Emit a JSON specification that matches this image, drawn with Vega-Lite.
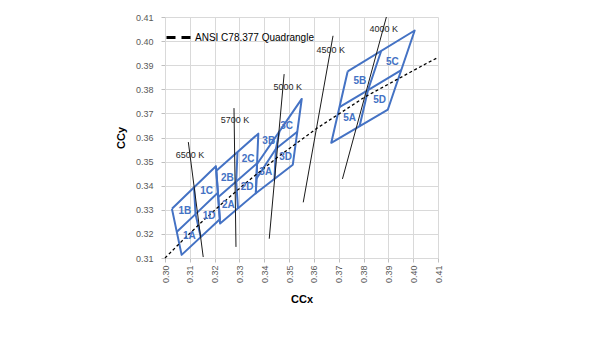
{
  "$schema": "https://vega.github.io/schema/vega-lite/v6.json",
  "autosize": {"type": "none"},
  "padding": {"left": 165, "top": 17, "right": 153, "bottom": 96},
  "width": 273,
  "height": 241,
  "background": "white",
  "config": {
    "view": {"stroke": null},
    "font": "Liberation Sans",
    "axis": {
      "gridColor": "#D9D9D9",
      "gridWidth": 1,
      "domainColor": "#D9D9D9",
      "tickColor": "#BFBFBF",
      "tickSize": 4,
      "labelColor": "#595959",
      "labelFontSize": 9,
      "labelFont": "Liberation Sans",
      "titleFont": "Liberation Sans",
      "titleFontSize": 11,
      "titleFontWeight": "bold",
      "titleColor": "#000000"
    }
  },
  "datasets": {
    "quads": [
      {"p": "Q65", "o": 1, "x": 0.3028, "y": 0.3304},
      {"p": "Q65", "o": 2, "x": 0.3205, "y": 0.3481},
      {"p": "Q65", "o": 3, "x": 0.3221, "y": 0.3261},
      {"p": "Q65", "o": 4, "x": 0.3067, "y": 0.3113},
      {"p": "Q65", "o": 5, "x": 0.3028, "y": 0.3304},
      {"p": "Q65v", "o": 1, "x": 0.3117, "y": 0.3393},
      {"p": "Q65v", "o": 2, "x": 0.3123, "y": 0.3282},
      {"p": "Q65v", "o": 3, "x": 0.3144, "y": 0.3187},
      {"p": "Q65h", "o": 1, "x": 0.3048, "y": 0.3209},
      {"p": "Q65h", "o": 2, "x": 0.3123, "y": 0.3282},
      {"p": "Q65h", "o": 3, "x": 0.3213, "y": 0.3371},
      {"p": "Q57", "o": 1, "x": 0.3207, "y": 0.3462},
      {"p": "Q57", "o": 2, "x": 0.3376, "y": 0.3616},
      {"p": "Q57", "o": 3, "x": 0.3366, "y": 0.3369},
      {"p": "Q57", "o": 4, "x": 0.3222, "y": 0.3243},
      {"p": "Q57", "o": 5, "x": 0.3207, "y": 0.3462},
      {"p": "Q57v", "o": 1, "x": 0.3292, "y": 0.3539},
      {"p": "Q57v", "o": 2, "x": 0.3287, "y": 0.3417},
      {"p": "Q57v", "o": 3, "x": 0.3294, "y": 0.3306},
      {"p": "Q57h", "o": 1, "x": 0.3215, "y": 0.3353},
      {"p": "Q57h", "o": 2, "x": 0.3287, "y": 0.3417},
      {"p": "Q57h", "o": 3, "x": 0.3371, "y": 0.3493},
      {"p": "Q50", "o": 1, "x": 0.3371, "y": 0.349},
      {"p": "Q50", "o": 2, "x": 0.3551, "y": 0.376},
      {"p": "Q50", "o": 3, "x": 0.3515, "y": 0.3487},
      {"p": "Q50", "o": 4, "x": 0.3366, "y": 0.3369},
      {"p": "Q50", "o": 5, "x": 0.3371, "y": 0.349},
      {"p": "Q50v", "o": 1, "x": 0.3461, "y": 0.3625},
      {"p": "Q50v", "o": 2, "x": 0.3447, "y": 0.3553},
      {"p": "Q50v", "o": 3, "x": 0.3441, "y": 0.3428},
      {"p": "Q50h", "o": 1, "x": 0.3369, "y": 0.343},
      {"p": "Q50h", "o": 2, "x": 0.3447, "y": 0.3553},
      {"p": "Q50h", "o": 3, "x": 0.3533, "y": 0.3624},
      {"p": "Q40", "o": 1, "x": 0.3736, "y": 0.3874},
      {"p": "Q40", "o": 2, "x": 0.4006, "y": 0.4044},
      {"p": "Q40", "o": 3, "x": 0.3898, "y": 0.3716},
      {"p": "Q40", "o": 4, "x": 0.367, "y": 0.3578},
      {"p": "Q40", "o": 5, "x": 0.3736, "y": 0.3874},
      {"p": "Q40v", "o": 1, "x": 0.3871, "y": 0.3959},
      {"p": "Q40v", "o": 2, "x": 0.3818, "y": 0.3797},
      {"p": "Q40v", "o": 3, "x": 0.3784, "y": 0.3647},
      {"p": "Q40h", "o": 1, "x": 0.3703, "y": 0.3726},
      {"p": "Q40h", "o": 2, "x": 0.3818, "y": 0.3797},
      {"p": "Q40h", "o": 3, "x": 0.3952, "y": 0.388}
    ],
    "iso": [
      {"t": "6500", "o": 1, "x": 0.3094, "y": 0.3581},
      {"t": "6500", "o": 2, "x": 0.3154, "y": 0.3104},
      {"t": "5700", "o": 1, "x": 0.3278, "y": 0.3722},
      {"t": "5700", "o": 2, "x": 0.3286, "y": 0.3146},
      {"t": "5000", "o": 1, "x": 0.348, "y": 0.3863},
      {"t": "5000", "o": 2, "x": 0.342, "y": 0.318},
      {"t": "4500", "o": 1, "x": 0.3677, "y": 0.4022},
      {"t": "4500", "o": 2, "x": 0.3557, "y": 0.3331},
      {"t": "4000", "o": 1, "x": 0.3892, "y": 0.41},
      {"t": "4000", "o": 2, "x": 0.3715, "y": 0.3428}
    ],
    "locus": [
      {"s": "ANSI C78.377 Quadrangle", "o": 1, "x": 0.3, "y": 0.31},
      {"s": "ANSI C78.377 Quadrangle", "o": 2, "x": 0.3064, "y": 0.3166},
      {"s": "ANSI C78.377 Quadrangle", "o": 3, "x": 0.3135, "y": 0.3237},
      {"s": "ANSI C78.377 Quadrangle", "o": 4, "x": 0.3221, "y": 0.3318},
      {"s": "ANSI C78.377 Quadrangle", "o": 5, "x": 0.3324, "y": 0.341},
      {"s": "ANSI C78.377 Quadrangle", "o": 6, "x": 0.3451, "y": 0.3516},
      {"s": "ANSI C78.377 Quadrangle", "o": 7, "x": 0.3609, "y": 0.3636},
      {"s": "ANSI C78.377 Quadrangle", "o": 8, "x": 0.3805, "y": 0.3768},
      {"s": "ANSI C78.377 Quadrangle", "o": 9, "x": 0.4053, "y": 0.3907},
      {"s": "ANSI C78.377 Quadrangle", "o": 10, "x": 0.41, "y": 0.3932}
    ],
    "bins": [
      {"b": "1A", "x": 0.3098, "y": 0.3193},
      {"b": "1B", "x": 0.308, "y": 0.3296},
      {"b": "1C", "x": 0.3168, "y": 0.3379},
      {"b": "1D", "x": 0.3178, "y": 0.3276},
      {"b": "2A", "x": 0.3255, "y": 0.3321},
      {"b": "2B", "x": 0.3251, "y": 0.3434},
      {"b": "2C", "x": 0.3335, "y": 0.3511},
      {"b": "2D", "x": 0.3331, "y": 0.3395},
      {"b": "3A", "x": 0.3406, "y": 0.3455},
      {"b": "3B", "x": 0.3418, "y": 0.3584},
      {"b": "3C", "x": 0.349, "y": 0.3646},
      {"b": "3D", "x": 0.3486, "y": 0.3519},
      {"b": "5A", "x": 0.3744, "y": 0.3681},
      {"b": "5B", "x": 0.3785, "y": 0.3833},
      {"b": "5C", "x": 0.3916, "y": 0.3913},
      {"b": "5D", "x": 0.3865, "y": 0.3754}
    ],
    "cct": [
      {"t": "6500 K", "x": 0.3101, "y": 0.3529},
      {"t": "5700 K", "x": 0.3282, "y": 0.3671},
      {"t": "5000 K", "x": 0.3495, "y": 0.381},
      {"t": "4500 K", "x": 0.3668, "y": 0.3964},
      {"t": "4000 K", "x": 0.3881, "y": 0.405}
    ]
  },
  "encoding": {
    "x": {
      "field": "x", "type": "quantitative",
      "scale": {"domain": [0.3, 0.41], "nice": false, "zero": false},
      "axis": {
        "title": "CCx",
        "values": [0.3, 0.31, 0.32, 0.33, 0.34, 0.35, 0.36, 0.37, 0.38, 0.39, 0.4, 0.41],
        "format": ".2f",
        "labelAngle": 270,
        "labelPadding": 3,
        "titlePadding": 11
      }
    },
    "y": {
      "field": "y", "type": "quantitative",
      "scale": {"domain": [0.31, 0.41], "nice": false, "zero": false},
      "axis": {
        "title": "CCy",
        "values": [0.31, 0.32, 0.33, 0.34, 0.35, 0.36, 0.37, 0.38, 0.39, 0.4, 0.41],
        "format": ".2f",
        "labelPadding": 8,
        "titlePadding": 9
      }
    }
  },
  "layer": [
    {
      "data": {"name": "quads"},
      "mark": {"type": "line", "color": "#4472C4", "strokeWidth": 2, "strokeJoin": "round"},
      "encoding": {"detail": {"field": "p"}, "order": {"field": "o", "type": "quantitative"}}
    },
    {
      "data": {"name": "iso"},
      "mark": {"type": "line", "color": "#1a1a1a", "strokeWidth": 1},
      "encoding": {"detail": {"field": "t"}, "order": {"field": "o", "type": "quantitative"}}
    },
    {
      "data": {"name": "locus"},
      "mark": {"type": "line", "strokeWidth": 1.3, "strokeDash": [3, 2.5]},
      "encoding": {
        "order": {"field": "o", "type": "quantitative"},
        "color": {
          "field": "s", "type": "nominal",
          "scale": {"range": ["#000000"]},
          "legend": {
            "title": null,
            "orient": "none",
            "legendX": 0,
            "legendY": 7,
            "padding": 0,
            "symbolType": "stroke",
            "symbolSize": 576,
            "symbolStrokeWidth": 3,
            "symbolDash": [9, 6],
            "labelOffset": 3,
            "labelFontSize": 10,
            "labelColor": "#000000",
            "labelFont": "Liberation Sans"
          }
        }
      }
    },
    {
      "data": {"name": "bins"},
      "mark": {"type": "text", "color": "#4472C4", "fontWeight": "bold", "fontSize": 10, "font": "Liberation Sans"},
      "encoding": {"text": {"field": "b"}}
    },
    {
      "data": {"name": "cct"},
      "mark": {"type": "text", "color": "#262626", "fontSize": 9, "font": "Liberation Sans"},
      "encoding": {"text": {"field": "t"}}
    }
  ]
}
